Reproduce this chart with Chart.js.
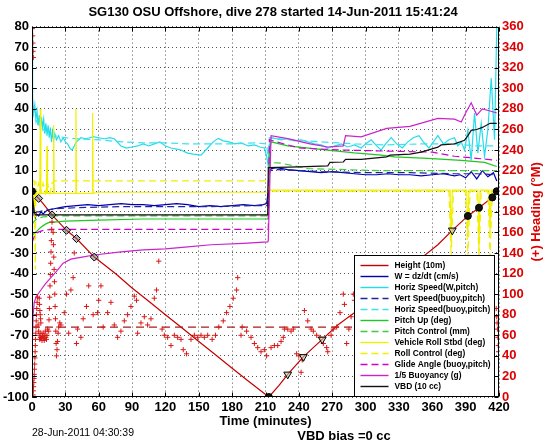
<!DOCTYPE html>
<html>
<head>
<meta charset="utf-8">
<script src="https://cdn.jsdelivr.net/npm/chart.js@4.4.0/dist/chart.umd.min.js"></script>
<style>
  html, body { margin: 0; padding: 0; background: #fff; }
  #wrap { width: 546px; height: 442px; }
</style>
</head>
<body>
<div id="wrap"><canvas id="diveChart" width="546" height="442"></canvas></div>
<script>
const FONT = "'Liberation Sans', Arial, Helvetica, sans-serif";
const TITLE = 'SG130 OSU Offshore, dive 278 started 14-Jun-2011 15:41:24';

// height (10 m units)
const heightT = [0,3,6,10,18,31,40,56,75,90,105,120,135,150,165,180,195,213,222,230,244,261,275,290,305,320,335,350,365,378,392,402,414,418];
const heightV = [0,-2,-3.5,-6,-11.5,-19,-23,-32,-40,-47,-53.5,-60,-66.5,-73,-79.5,-86,-92.5,-100,-94.5,-89,-80.5,-72,-65,-59,-52.5,-46,-39,-32.5,-26,-19,-12,-8,-3,0];

// W = dz/dt
const wT = [0,1,2,3,4,6,8,10,13,16,20,25,30,40,50,60,70,80,90,100,110,120,130,140,150,160,170,180,190,200,208,211,212,213,215,220,230,240,250,260,270,280,290,300,310,320,330,340,350,360,370,380,385,390,395,400,405,410,415,418];
const wV = [0,-6,-12,-13,-11,-12,-10,-11,-9.5,-9,-8.5,-8,-7.5,-7,-6.5,-7,-6.5,-6,-6.5,-6.5,-7,-6.5,-6,-6.5,-7.5,-7,-7.5,-7,-6.5,-7,-6.5,-6,-2,8,11,11.5,10.5,10,9.5,9,9.5,9,8.5,8,8,8.5,8,8,7.5,8,8.5,7.5,8,6.5,9.5,6,10,7,9,5];

// horizontal speed (W, pitch)
const hsT = [0,0.3,0.8,1.5,2.5,3.5,4.5,5.5,6.5,7.5,8.5,9.5,10.5,11.5,12.5,13.5,14.5,15.5,16.5,17.5,18.5,19.5,20.5,22,24,26,28,30,32,34,36,38,40,44,48,52,55,60,65,70,74,80,85,90,95,100,105,110,115,120,125,130,134,140,145,152,158,163,167.5,172,177,182,188,194.5,200,205,209,211,212.5,213.5,215,220,224,230,236,242,248,254,260,266,272,278,284,290,296,300,305,310,314,318,323,328,333,338,343,348,352,357,361,365,370,375,380,383,386,389,392,395,398,401,404,407,410,413,416,418];
const hsV = [80,60,45,38,42,35,39,32,37,30,36,31,35,28,33,27,32,26,31,24,29,25,28,25,27,24,26,24,23,21,20,22,24,26,25.5,26,26.5,26,25.5,26,25.5,22,21,21.5,22,23,22,23,24,22,21,20.5,20,18.5,18,17.5,21,24,25.7,24.5,24,23,23.5,22,22.5,21.5,21,17,12,22,26,25.5,25,25.5,24.5,25,24,23,22.5,21,22,23,21.5,22.5,21,23,25,22,20,23,26,23,21,24,26,27,24,21,24,27,23,25,26,22,24,20,29.6,15,38,18.6,33,17,30,55,25,80];

// vertical speed (buoy, pitch)
const vbT = [0,3,6,10,20,40,80,120,160,200,212,213.5,220,260,300,340,380,400,418];
const vbV = [-5,-10,-10,-9.5,-8.5,-8,-7.5,-7.5,-7.5,-7,-7,10,10.5,9.5,9,9,8.5,8.5,8];

// horizontal speed (buoy, pitch)
const hbT = [0,2,5,10,15,20,30,40,60,80,100,120,140,160,180,200,211,212.5,213.5,230,260,290,320,350,380,400,418];
const hbV = [40,36,33,30,28,27,26,25.5,25,24,23.5,23.5,23,23,23,23.5,23,15,26,25,24,23,22.5,23,23,22,22];

// pitch up (deg)
const puT = [0,1,3,5,8,12,16,20,30,60,100,150,200,212,212.5,213.5,215,230,266,290,314,326,356,386,407,418];
const puV = [-22,-21,-20,-19,-17.5,-16,-15,-15,-14.5,-14,-13.5,-13.5,-13.5,-13.5,-13,20,24,22,20,18.6,17.5,16.7,16,15,14,12];

// pitch control (mm)
const pcT = [0,3,6,10,20,212,212.5,213.5,224,248,314,360,418];
const pcV = [-16,-14,-13,-12.5,-12,-12,-12,14,13.6,11,10,10,10];

// vehicle roll stbd (deg)
const rollT = [0,1,2,3,5,7,7.5,8,10,13,13.5,14,19,19.5,20,25,39,39.5,40,45,54,54.5,55,60,100,150,200,212,213,250,300,350,376,377,378,379,391,392,393,401,402,403,411,412,413,418];
const rollV = [2,-1,-8,-2,-1,-1,40,-1,-1,-1,22,-1,-1,32,-1,-1,-1,40,-1,-1,-1,38,-1,-0.5,-0.5,-0.5,-0.5,-0.5,0.5,0.5,0.5,0.5,0.5,-25,0.5,0.5,0.5,-22,0.5,0.5,-28,0.5,0.5,-20,0.5,0.5];

// roll control (deg)
const rcT = [0,2,3,3.5,4,6,8,10,12,14,16,18,20,25,60,100,150,200,212,213,250,300,350,375,377,379,390,392,394,400,402,404,410,412,414,418];
const rcV = [5,5,-38,5,-1,4,-1,4,-1,4,-1,4,5,5,5,5,5,5,5,0,0,0,0,0,-32,0,0,-32,0,0,-32,0,0,-32,0,0];

// glide angle (buoy, pitch)
const gaT = [0,2,5,10,20,60,120,200,212,212.5,213.5,220,240,280,320,360,380,400,418];
const gaV = [-25,-22,-20,-19,-18.5,-18.5,-18.5,-18.5,-18.5,-18.5,25,24,21,20,19.5,19,17,16,15];

// 1/5 buoyancy (g)
const buT = [0,0.3,1,2,4,8,12,17,22,28,35,45,56,80,100,120,140,161,190,212,212.5,215,230,250,266,280,282,296,319,340,365,380,386,390,395,400,405,412,418];
const buV = [-100,-75,-60,-54,-51,-48,-45,-42,-39,-35,-33,-32,-31,-29.5,-28.5,-28,-27,-26,-25.3,-24.6,-24,27,25.6,23,21.5,22,27,26.4,30.5,31.5,35.4,35,33.6,38,43,37,40,39,38];

// VBD (10 cc)
const vbdT = [0,1,2,3,212,212.5,240,266,268,280,282,296,319,322,340,350,365,368,380,389,392,395,400,405,412,418];
const vbdV = [0,-5,-10,-11.5,-11.5,11.5,11.8,12.3,14,14.2,15.5,15.5,16.7,17.5,18,19,21.4,22.5,23,24.8,27,29.6,30,31,33,33];

// heading (deg magnetic, right axis)
const headT = [
  0.4,0.6,0.8,1.0,1.2,
  1.0,1.2,1.4,1.6,1.8,2.0,2.2,2.4,2.6,2.8,3.0,3.2,3.4,3.6,3.8,4.0,4.3,4.6,5.0,
  5.5,6,6.5,7,7.5,8,8.5,9,9.5,10,10.5,11,11.5,12,12.5,13,13.5,14,
  6.5,6.8,7.1,7.4,7.7,8.0,
  15,15.3,15.6,15.9,16.2,16.5,16.8,17.1,17.4,17.7,18,
  19,19.3,19.6,19.9,20.2,20.5,20.8,21.1,21.4,21.7,22,22.5,23,23.5,24,25,
  26,29,31,33,35,37,38,40,41,44,46,49,51,55,59,60,62,64,68,71,
  74,77,80,83,86,89,92,94,95,98,101,104,107,110,112,114,117,119,122,125,
  128,131,134,136,139,143,146,149,152,155,158,162,165,168,172,175,178,181,184,185,
  188,189,193,197,200,203,206,209,211,215,218,221,224,226,227,230,233,235,238,240,
  242,243,245,248,251,253,256,259,262,265,266,269,271,274,277,280,281,283,285,287,289,290,
  300,310,320,330,340,350,360,370,380,390,400,410,
  417.5,418,418.3,418.6,419,419.3,419.6
];
const headV = [
  358,351,344,336,330,
  2,6,10,14,18,22,27,32,38,44,50,56,62,68,74,80,86,92,97,
  70,64,60,56,58,62,57,55,59,62,57,55,60,64,58,56,60,66,
  96,90,84,80,76,72,
  64,75,86,97,108,119,130,141,152,163,170,
  160,148,136,124,112,100,88,76,64,52,40,46,54,62,68,72,
  70,82,100,62,104,116,140,52,66,58,76,88,108,80,82,94,108,68,82,92,
  70,58,64,74,80,88,98,94,62,72,78,70,76,96,104,132,66,60,58,50,
  60,58,56,46,42,56,60,58,60,58,60,56,60,68,74,82,88,96,104,116,
  60,68,64,58,52,48,44,46,40,48,50,50,54,58,66,66,64,66,42,40,
  24,36,84,74,66,64,60,58,52,48,44,60,66,68,82,100,90,52,66,78,100,94,
  70,64,76,60,72,66,80,58,70,62,74,66,
  86,78,72,66,58,50,44
];

// desired heading
const headDesT = [0,420];
const headDesV = [68,68];

// depth markers
const descMarkT = [6,18,31,40,56];
const descMarkV = [-3.5,-11.5,-19,-23,-32];
const ascMarkT = [230,244,261,378];
const ascMarkV = [-89,-80.5,-72,-19];
const dotMarkT = [0,213,392,402,414,418];
const dotMarkV = [0,-100,-12,-8,-3,0];

const xTicksStep = 30;
const yTicksStep = 10;
const y2TicksStep = 20;

function zip(ts, vs) {
  return ts.map((t, i) => ({x: t, y: vs[i]}));
}

let nOrder = 30;
function series(label, ts, vs, color, dashed) {
  return {
    label: label,
    inLegend: true,
    data: zip(ts, vs),
    borderColor: color,
    backgroundColor: color,
    borderWidth: 1.2,
    borderDash: dashed ? [7, 4] : [],
    pointRadius: 0,
    tension: 0,
    fill: false,
    yAxisID: 'y',
    order: nOrder--
  };
}

const datasets = [
  series('Height (10m)', heightT, heightV, '#c40000', false),
  series('W = dz/dt (cm/s)', wT, wV, '#0000b0', false),
  series('Horiz Speed(W,pitch)', hsT, hsV, '#22dcec', false),
  series('Vert Speed(buoy,pitch)', vbT, vbV, '#22229c', true),
  series('Horiz Speed(buoy,pitch)', hbT, hbV, '#3ee2ee', true),
  series('Pitch Up (deg)', puT, puV, '#1ec81e', false),
  series('Pitch Control (mm)', pcT, pcV, '#3ccc3c', true),
  series('Vehicle Roll Stbd (deg)', rollT, rollV, '#f0f000', false),
  series('Roll Control (deg)', rcT, rcV, '#f0f000', true),
  series('Glide Angle (buoy,pitch)', gaT, gaV, '#d000d0', true),
  series('1/5 Buoyancy (g)', buT, buV, '#cc22cc', false),
  series('VBD (10 cc)', vbdT, vbdV, '#111111', false),
  {
    label: 'Heading desired', data: zip(headDesT, headDesV), yAxisID: 'y2',
    borderColor: '#a81c1c', borderWidth: 1.2, borderDash: [8, 5], pointRadius: 0, order: 3
  },
  {
    label: 'Heading', data: zip(headT, headV), yAxisID: 'y2', showLine: false,
    pointStyle: 'cross', pointRadius: 2.6, borderColor: '#d81818', pointBorderWidth: 1, order: 2
  },
  {
    label: 'desc marks', data: zip(descMarkT, descMarkV), yAxisID: 'y', showLine: false,
    pointStyle: 'rectRot', pointRadius: 4, borderColor: '#000', backgroundColor: 'rgba(120,120,120,0.5)', pointBorderWidth: 1, order: 1
  },
  {
    label: 'asc marks', data: zip(ascMarkT, ascMarkV), yAxisID: 'y', showLine: false,
    pointStyle: 'triangle', rotation: 180, pointRadius: 4.5, borderColor: '#000', backgroundColor: 'rgba(200,200,160,0.6)', pointBorderWidth: 1, order: 1
  },
  {
    label: 'dot marks', data: zip(dotMarkT, dotMarkV), yAxisID: 'y', showLine: false,
    pointStyle: 'circle', pointRadius: 3.5, borderColor: '#000', backgroundColor: '#111', pointBorderWidth: 1, order: 0
  }
];

const framePlugin = {
  id: 'frame',
  afterDatasetsDraw(chart) {
    const {ctx, chartArea: a, scales} = chart;
    ctx.save();
    ctx.strokeStyle = '#000';
    ctx.lineWidth = 1;
    const L = Math.round(a.left) + 0.5, R = Math.round(a.right) - 0.5;
    const T = Math.round(a.top) + 0.5, B = Math.round(a.bottom) - 0.5;
    ctx.strokeRect(L, T, R - L, B - T);
    ctx.beginPath();
    scales.x.ticks.forEach(tk => {
      const px = Math.round(scales.x.getPixelForValue(tk.value)) + 0.5;
      ctx.moveTo(px, B); ctx.lineTo(px, B - 4);
      ctx.moveTo(px, T); ctx.lineTo(px, T + 4);
    });
    scales.y.ticks.forEach(tk => {
      const py = Math.round(scales.y.getPixelForValue(tk.value)) + 0.5;
      ctx.moveTo(L, py); ctx.lineTo(L + 4, py);
    });
    scales.y2.ticks.forEach(tk => {
      const py = Math.round(scales.y2.getPixelForValue(tk.value)) + 0.5;
      ctx.moveTo(R, py); ctx.lineTo(R - 4, py);
    });
    ctx.stroke();
    ctx.restore();
  },
  afterDraw(chart) {
    const {ctx, chartArea: a} = chart;
    ctx.save();
    // legend box
    const items = chart.data.datasets.filter(d => d.inLegend);
    const bw = 140, rowH = 11;
    const bx = Math.round(a.right) - 5 - bw + 0.5;
    const bh = items.length * rowH + 9;
    const by = Math.round(a.bottom) - 1 - bh + 0.5;
    ctx.fillStyle = '#fff';
    ctx.fillRect(bx, by, bw, bh);
    ctx.strokeStyle = '#000';
    ctx.lineWidth = 1;
    ctx.strokeRect(bx, by, bw, bh);
    ctx.font = 'bold 8.4px ' + FONT;
    ctx.textBaseline = 'middle';
    ctx.textAlign = 'left';
    items.forEach((d, i) => {
      const yy = Math.round(by + 9 + i * rowH) + 0.5;
      ctx.beginPath();
      ctx.strokeStyle = d.borderColor;
      ctx.lineWidth = 1.4;
      ctx.setLineDash(d.borderDash);
      ctx.moveTo(bx + 6, yy);
      ctx.lineTo(bx + 34, yy);
      ctx.stroke();
      ctx.setLineDash([]);
      ctx.fillStyle = '#000';
      ctx.fillText(d.label, bx + 40, yy);
    });
    // right axis title
    ctx.save();
    ctx.translate(536, (a.top + a.bottom) / 2);
    ctx.rotate(-Math.PI / 2);
    ctx.fillStyle = '#dd0000';
    ctx.font = 'bold 13px ' + FONT;
    ctx.textAlign = 'center';
    ctx.textBaseline = 'middle';
    ctx.fillText('(+) Heading (\u00B0M)', 0, 0);
    ctx.restore();
    // footer texts
    ctx.fillStyle = '#000';
    ctx.textBaseline = 'middle';
    ctx.textAlign = 'left';
    ctx.font = '10.5px ' + FONT;
    ctx.fillText('28-Jun-2011 04:30:39', 32, 433);
    ctx.font = 'bold 13px ' + FONT;
    ctx.textAlign = 'center';
    ctx.fillText('VBD bias =0 cc', 344, 436);
    ctx.restore();
  }
};

const tickFont = {family: FONT, size: 13, weight: 'bold'};

new Chart(document.getElementById('diveChart'), {
  type: 'line',
  data: {datasets: datasets},
  options: {
    responsive: false,
    animation: false,
    layout: {padding: 0},
    plugins: {
      legend: {display: false},
      tooltip: {enabled: false},
      title: {
        display: true, text: TITLE, color: '#000',
        font: {family: FONT, size: 13, weight: 'bold'},
        padding: {top: 5, bottom: 6}
      }
    },
    scales: {
      x: {
        type: 'linear', min: 0, max: 420,
        ticks: {stepSize: xTicksStep, color: '#000', font: tickFont, padding: 3, maxRotation: 0, autoSkip: false},
        grid: {color: '#555', lineWidth: 1, drawTicks: false},
        border: {display: false, dash: [1, 3]},
        title: {display: true, text: 'Time (minutes)', color: '#000', font: tickFont, padding: {top: 0, bottom: 13}},
        afterFit(s) { s.height = 45; }
      },
      y: {
        position: 'left', min: -100, max: 80,
        ticks: {stepSize: yTicksStep, color: '#000', font: tickFont, padding: 3},
        grid: {color: '#555', lineWidth: 1, drawTicks: false},
        border: {display: false, dash: [1, 3]},
        afterFit(s) { s.width = 32; }
      },
      y2: {
        position: 'right', min: 0, max: 360,
        ticks: {stepSize: y2TicksStep, color: '#dd0000', font: tickFont, padding: 3},
        grid: {drawOnChartArea: false, drawTicks: false},
        border: {display: false},
        afterFit(s) { s.width = 47; }
      }
    }
  },
  plugins: [framePlugin]
});
</script>
</body>
</html>
